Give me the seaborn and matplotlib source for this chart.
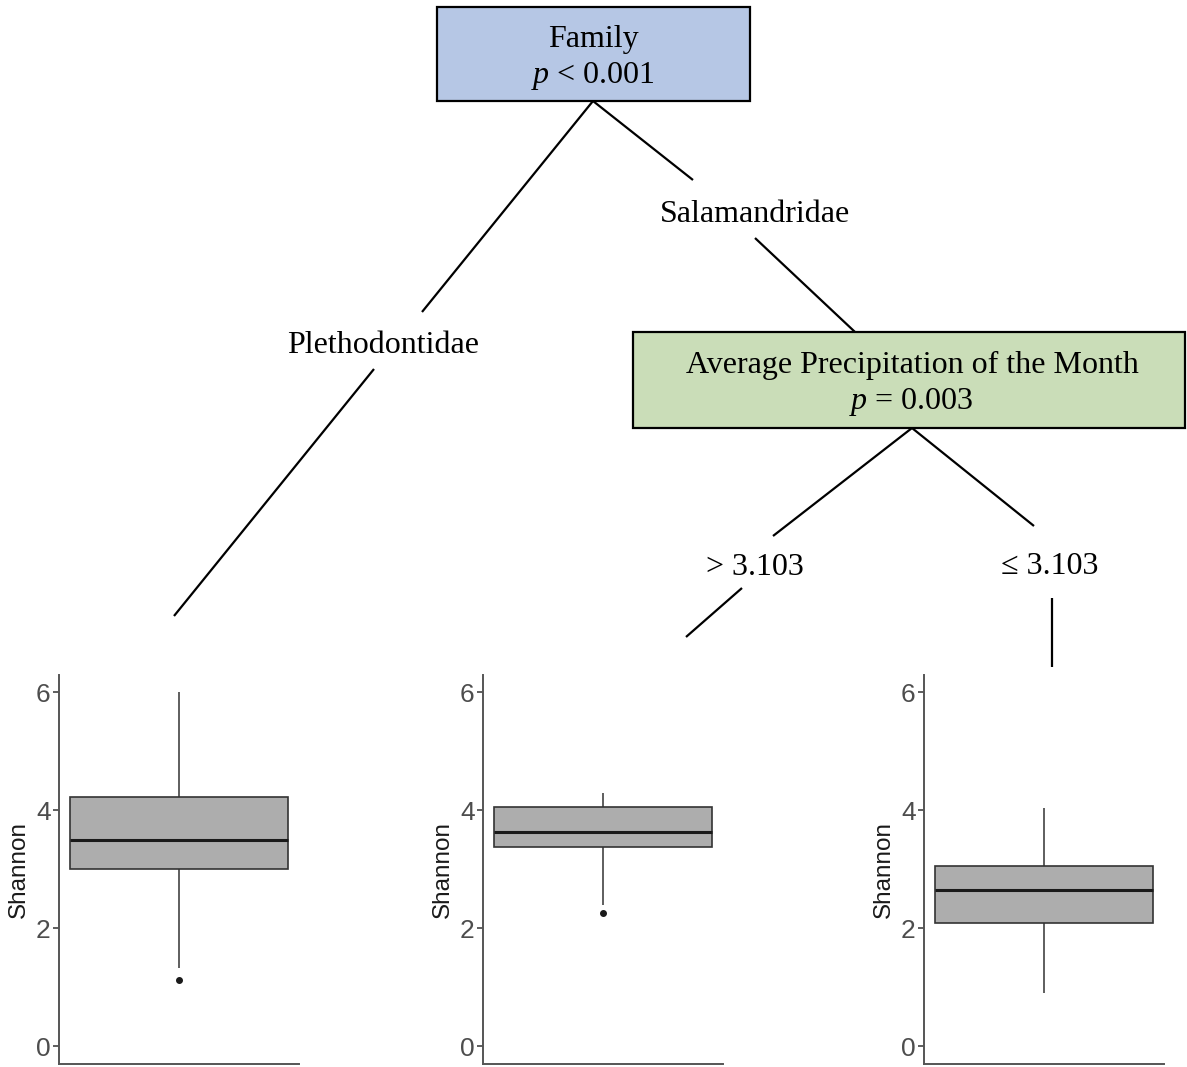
import matplotlib
matplotlib.use("Agg")
import matplotlib.pyplot as plt
from matplotlib.patches import Rectangle
import seaborn as sns
import numpy as np

# Shannon diversity observations in each terminal node of the tree
shannon_plethodontidae = [1.12, 1.33, 3.00, 3.20, 3.50, 3.85, 4.22, 5.10, 6.00]
shannon_salam_high_precip = [2.25, 2.39, 3.37, 3.50, 3.64, 3.85, 4.05, 4.20, 4.30]
shannon_salam_low_precip = [0.90, 1.50, 2.08, 2.40, 2.65, 2.85, 3.05, 3.50, 4.04]
node_samples = [shannon_plethodontidae, shannon_salam_high_precip, shannon_salam_low_precip]

y_ticks = [0, 2, 4, 6]
y_label = "Shannon"

root_title = "Family"
root_p = r"$p$ < 0.001"
split_title = "Average Precipitation of the Month"
split_p = r"$p$ = 0.003"
edge_labels = ["Plethodontidae", "Salamandridae", "> 3.103", "\u2264 3.103"]

sns.set_theme(style="white")
plt.rcParams["font.family"] = ["Liberation Sans", "DejaVu Sans"]
plt.rcParams["text.color"] = "black"
plt.rcParams["mathtext.fontset"] = "custom"
plt.rcParams["mathtext.it"] = "Liberation Serif:italic"
plt.rcParams["mathtext.rm"] = "Liberation Serif"

W, H = 1187, 1067
fig = plt.figure(figsize=(W / 100, H / 100), dpi=100)
fig.patch.set_facecolor("white")

# Tree overlay in pixel coordinates
tree = fig.add_axes([0, 0, 1, 1])
tree.set_xlim(0, W)
tree.set_ylim(H, 0)
tree.axis("off")

serif = ["Liberation Serif", "DejaVu Serif"]
lw_edge = 1.6
edge_col = "black"

def seg(x0, y0, x1, y1):
    tree.plot([x0, x1], [y0, y1], color=edge_col, lw=lw_edge, solid_capstyle="butt")

# edges from root
seg(593, 101, 422, 312)
seg(374, 369, 174, 616)
seg(593, 101, 693, 180)
seg(755, 238, 855, 332)
# edges from precipitation split
seg(912, 428, 773, 536)
seg(742, 588, 686, 637)
seg(912, 428, 1034, 526)
seg(1052, 598, 1052, 667)

# node boxes
tree.add_patch(Rectangle((437, 7), 313, 94, facecolor="#B6C7E5", edgecolor="black", lw=1.6, zorder=3))
tree.add_patch(Rectangle((633, 332), 552, 96, facecolor="#CADDB8", edgecolor="black", lw=1.6, zorder=3))

fs = 23
tkw = dict(ha="center", va="baseline", fontsize=fs, family=serif, color="black")
tree.text(593, 47, root_title, zorder=4, **tkw)
tree.text(593, 83, root_p, zorder=4, **tkw)
tree.text(912, 373, split_title, zorder=4, **tkw)
tree.text(911, 409, split_p, zorder=4, **tkw)

tree.text(383, 353, edge_labels[0], **tkw)
tree.text(755, 222, edge_labels[1], **tkw)
tree.text(755, 575, edge_labels[2], **tkw)
tree.text(1050, 574, edge_labels[3], **tkw)

# Terminal node boxplots
panel_left = [59, 483, 924]
panel_width = 240
panel_top, panel_bottom = 675, 1064

for left, values in zip(panel_left, node_samples):
    ax = fig.add_axes([left / W, (H - panel_bottom) / H, panel_width / W, (panel_bottom - panel_top) / H])
    sns.boxplot(
        y=values, ax=ax, width=0.91, color="#ADADAD", saturation=1,
        linecolor="#333333", linewidth=1.2, showcaps=False,
        medianprops=dict(color="#1A1A1A", linewidth=2.2),
        whiskerprops=dict(color="#333333", linewidth=1.1),
        flierprops=dict(marker="o", markersize=4, markerfacecolor="#1A1A1A",
                        markeredgecolor="#1A1A1A"),
    )
    ax.set_xlim(-0.5, 0.5)
    ax.set_ylim(-0.305, 6.297)
    ax.set_yticks(y_ticks)
    ax.set_yticklabels([str(t) for t in y_ticks])
    ax.set_xticks([])
    ax.set_ylabel(y_label, fontsize=17.5, color="#1A1A1A", labelpad=4)
    ax.tick_params(axis="y", labelsize=19, labelcolor="#4D4D4D", color="#333333",
                   length=4, width=1.1, pad=2, left=True)
    for side in ["top", "right"]:
        ax.spines[side].set_visible(False)
    for side in ["left", "bottom"]:
        ax.spines[side].set_color("#555555")
        ax.spines[side].set_linewidth(1.4)
    ax.set_facecolor("white")

fig.savefig("out.png", dpi=100, facecolor="white")
